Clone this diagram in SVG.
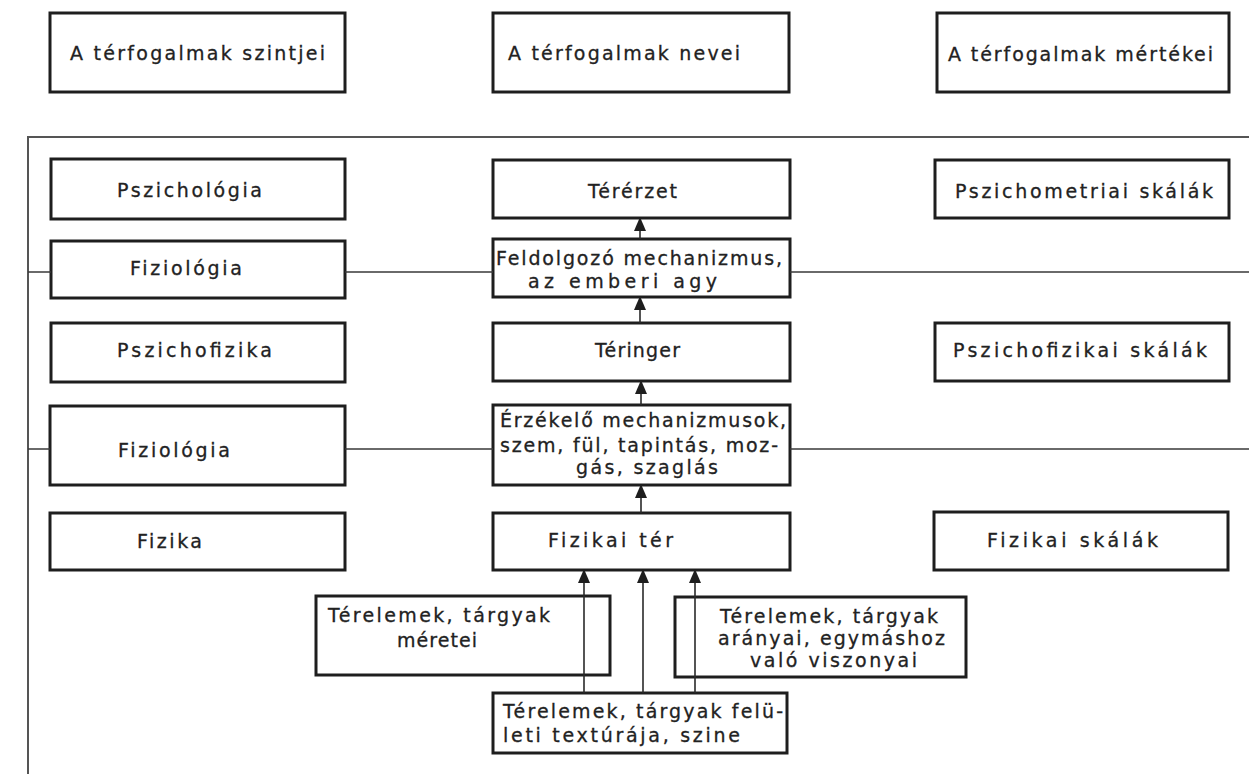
<svg xmlns="http://www.w3.org/2000/svg" width="1249" height="774" viewBox="0 0 1249 774">
<style>
.box{fill:#fff;stroke:#1e1e1e;stroke-width:3}
.t{font-family:"DejaVu Sans",sans-serif;font-size:19px;fill:#222;stroke:#222;stroke-width:0.3}
.frame{stroke:#555;stroke-width:2;fill:none}
.hl{stroke:#3a3a3a;stroke-width:1.6;fill:none}
.conn{stroke:#2a2a2a;stroke-width:1.6;fill:none}
</style>
<defs>
<marker id="ah" markerWidth="12" markerHeight="14" refX="6" refY="1" orient="0" markerUnits="userSpaceOnUse">
<path d="M6,0 L12,14 L0,14 Z" fill="#1e1e1e"/>
</marker>
</defs>
<rect width="1249" height="774" fill="#fff"/>
<g id="frame">
<path class="frame" d="M28,774 V137 H1249"/>
</g>
<g id="h1"><rect class="box" x="50" y="13" width="295" height="79"/><text class="t" x="70" y="60" textLength="255" lengthAdjust="spacing">A térfogalmak szintjei</text></g>
<g id="h2"><rect class="box" x="493" y="13" width="296" height="79"/><text class="t" x="508" y="60" textLength="232" lengthAdjust="spacing">A térfogalmak nevei</text></g>
<g id="h3"><rect class="box" x="937" y="13" width="292" height="79"/><text class="t" x="948" y="61" textLength="265" lengthAdjust="spacing">A térfogalmak mértékei</text></g>

<g id="l1"><rect class="box" x="51" y="159" width="294" height="60"/><text class="t" x="117" y="197" textLength="145" lengthAdjust="spacing">Pszichológia</text></g>
<g id="l2"><rect class="box" x="51" y="241" width="294" height="57"/><text class="t" x="130" y="275" textLength="112" lengthAdjust="spacing">Fiziológia</text></g>
<g id="l3"><rect class="box" x="51" y="323" width="294" height="59"/><text class="t" x="117" y="357" textLength="155" lengthAdjust="spacing">Pszichofizika</text></g>
<g id="l4"><rect class="box" x="50" y="406" width="295" height="79"/><text class="t" x="118" y="457" textLength="112" lengthAdjust="spacing">Fiziológia</text></g>
<g id="l5"><rect class="box" x="50" y="513" width="295" height="57"/><text class="t" x="137" y="548" textLength="65" lengthAdjust="spacing">Fizika</text></g>

<g id="m1"><rect class="box" x="493" y="160" width="297" height="58"/><text class="t" x="588" y="198" textLength="89" lengthAdjust="spacing">Térérzet</text></g>
<g id="m2"><rect class="box" x="493" y="239" width="297" height="58"/><text class="t" x="496" y="265" textLength="286" lengthAdjust="spacing">Feldolgozó mechanizmus,</text><text class="t" x="528" y="288" textLength="189" lengthAdjust="spacing">az emberi agy</text></g>
<g id="m3"><rect class="box" x="493" y="323" width="297" height="58"/><text class="t" x="595" y="357" textLength="85" lengthAdjust="spacing">Téringer</text></g>
<g id="m4"><rect class="box" x="493" y="405" width="297" height="80"/><text class="t" x="500" y="427" textLength="286" lengthAdjust="spacing">Érzékelő mechanizmusok,</text><text class="t" x="500" y="452" textLength="278" lengthAdjust="spacing">szem, fül, tapintás, moz-</text><text class="t" x="576" y="474" textLength="142" lengthAdjust="spacing">gás, szaglás</text></g>
<g id="m5"><rect class="box" x="493" y="513" width="297" height="57"/><text class="t" x="548" y="547" textLength="125" lengthAdjust="spacing">Fizikai tér</text></g>

<g id="r1"><rect class="box" x="935" y="160" width="294" height="58"/><text class="t" x="955" y="198" textLength="258" lengthAdjust="spacing">Pszichometriai skálák</text></g>
<g id="r2"><rect class="box" x="935" y="323" width="294" height="58"/><text class="t" x="953" y="357" textLength="254" lengthAdjust="spacing">Pszichofizikai skálák</text></g>
<g id="r3"><rect class="box" x="934" y="512" width="294" height="58"/><text class="t" x="987" y="547" textLength="171" lengthAdjust="spacing">Fizikai skálák</text></g>

<g id="b1"><rect class="box" x="316" y="596" width="294" height="79"/><text class="t" x="328" y="622" textLength="222" lengthAdjust="spacing">Térelemek, tárgyak</text><text class="t" x="397" y="647" textLength="80" lengthAdjust="spacing">méretei</text></g>
<g id="b2"><rect class="box" x="675" y="597" width="291" height="80"/><text class="t" x="720" y="623" textLength="218" lengthAdjust="spacing">Térelemek, tárgyak</text><text class="t" x="718" y="645" textLength="227" lengthAdjust="spacing">arányai, egymáshoz</text><text class="t" x="750" y="667" textLength="167" lengthAdjust="spacing">való viszonyai</text></g>
<g id="b3"><rect class="box" x="493" y="693" width="294" height="60"/><text class="t" x="503" y="718" textLength="280" lengthAdjust="spacing">Térelemek, tárgyak felü-</text><text class="t" x="503" y="742" textLength="237" lengthAdjust="spacing">leti textúrája, szine</text></g>

<g id="connectors">
<path class="hl" d="M28,272 H51 M345,272 H493 M790,272 H1249"/>
<path class="hl" d="M28,449 H50 M345,449 H493 M790,449 H1249"/>
<path class="conn" d="M640,239 V218" marker-end="url(#ah)"/>
<path class="conn" d="M640,323 V297" marker-end="url(#ah)"/>
<path class="conn" d="M641,405 V381" marker-end="url(#ah)"/>
<path class="conn" d="M641,513 V485" marker-end="url(#ah)"/>
<path class="conn" d="M584,693 V570" marker-end="url(#ah)"/>
<path class="conn" d="M643,693 V570" marker-end="url(#ah)"/>
<path class="conn" d="M695,693 V570" marker-end="url(#ah)"/>
</g>
</svg>
